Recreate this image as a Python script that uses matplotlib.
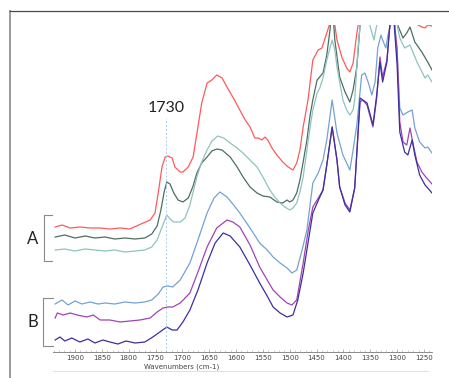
import numpy as np
import matplotlib
matplotlib.use("Agg")
import matplotlib.pyplot as plt
from matplotlib.lines import Line2D

# spectra (wavenumber, absorbance in arbitrary units)
red_wn = [1937, 1924, 1909, 1891, 1872, 1853, 1835, 1816, 1798, 1773,
          1760, 1751, 1745, 1738, 1732, 1727, 1719, 1714, 1704, 1699,
          1689, 1680, 1671, 1664, 1654, 1645, 1636, 1626, 1617, 1606,
          1593, 1583, 1574, 1565, 1559, 1552, 1546, 1541, 1533, 1524,
          1513, 1503, 1494, 1487, 1481, 1475, 1466, 1457, 1447, 1440,
          1431, 1425, 1421, 1416, 1412, 1403, 1394, 1388, 1382, 1375,
          1371, 1360, 1332, 1304, 1276, 1261, 1254, 1248, 1243, 1235]
red_abs = [1.25, 1.27, 1.24, 1.25, 1.24, 1.24, 1.23, 1.24, 1.23, 1.29,
           1.32, 1.39, 1.59, 1.85, 1.95, 1.96, 1.94, 1.85, 1.80, 1.80,
           1.85, 1.95, 2.25, 2.49, 2.69, 2.72, 2.77, 2.74, 2.65, 2.55,
           2.42, 2.32, 2.25, 2.14, 2.14, 2.12, 2.15, 2.12, 2.04, 1.97,
           1.90, 1.85, 1.82, 1.89, 2.02, 2.25, 2.52, 2.92, 3.02, 3.04,
           3.19, 3.29, 3.50, 3.27, 3.12, 2.95, 2.84, 2.80, 2.89, 3.19,
           3.32, 3.70, 4.30, 5.00, 4.10, 3.27, 3.25, 3.24, 3.27, 3.26]

green_wn = [1937, 1919, 1900, 1881, 1863, 1844, 1826, 1807, 1788, 1770,
            1757, 1747, 1740, 1734, 1729, 1723, 1716, 1708, 1699, 1689,
            1680, 1673, 1664, 1654, 1645, 1636, 1626, 1611, 1598, 1587,
            1574, 1561, 1550, 1537, 1524, 1513, 1505, 1500, 1494, 1487,
            1481, 1475, 1468, 1462, 1457, 1449, 1438, 1431, 1425, 1421,
            1416, 1407, 1397, 1388, 1382, 1375, 1369, 1351, 1323, 1299,
            1289, 1282, 1276, 1267, 1254, 1243, 1235]
green_abs = [1.15, 1.17, 1.14, 1.16, 1.14, 1.15, 1.13, 1.14, 1.13, 1.14,
             1.18, 1.26, 1.42, 1.60, 1.70, 1.68, 1.59, 1.52, 1.50, 1.54,
             1.66, 1.79, 1.89, 1.95, 2.01, 2.03, 2.02, 1.95, 1.85, 1.75,
             1.65, 1.59, 1.56, 1.55, 1.50, 1.49, 1.52, 1.50, 1.52, 1.59,
             1.72, 1.90, 2.12, 2.37, 2.52, 2.72, 2.79, 2.97, 3.22, 3.50,
             3.12, 2.75, 2.60, 2.50, 2.62, 2.85, 3.27, 3.80, 4.20, 3.27,
             3.14, 3.19, 3.25, 3.10, 3.00, 2.90, 2.82]

teal_wn = [1937, 1919, 1900, 1881, 1863, 1844, 1826, 1807, 1788, 1770,
           1757, 1747, 1740, 1732, 1729, 1723, 1716, 1704, 1695, 1686,
           1673, 1664, 1654, 1645, 1634, 1623, 1611, 1598, 1587, 1574,
           1561, 1550, 1537, 1528, 1518, 1509, 1500, 1494, 1487, 1481,
           1475, 1468, 1462, 1457, 1449, 1444, 1438, 1431, 1421, 1416,
           1412, 1401, 1394, 1388, 1382, 1379, 1373, 1369, 1360, 1351,
           1343, 1338, 1323, 1300, 1295, 1286, 1276, 1263, 1248, 1243,
           1235]
teal_abs = [1.02, 1.03, 1.01, 1.03, 1.02, 1.01, 1.02, 1.00, 1.01, 1.02,
            1.05, 1.12, 1.22, 1.33, 1.37, 1.33, 1.30, 1.30, 1.34, 1.47,
            1.75, 1.90, 2.02, 2.11, 2.16, 2.14, 2.09, 2.04, 1.99, 1.92,
            1.85, 1.75, 1.62, 1.55, 1.49, 1.45, 1.42, 1.44, 1.49, 1.60,
            1.75, 2.02, 2.25, 2.42, 2.59, 2.64, 2.74, 2.92, 3.12, 3.02,
            2.85, 2.52, 2.42, 2.37, 2.42, 2.52, 3.02, 3.27, 3.60, 3.27,
            3.12, 3.27, 3.60, 3.27, 3.14, 3.04, 3.07, 2.90, 2.74, 2.77,
            2.70]

blue_wn = [1937, 1924, 1913, 1900, 1887, 1872, 1857, 1844, 1826, 1807,
           1788, 1770, 1757, 1745, 1736, 1727, 1718, 1704, 1686, 1671,
           1654, 1641, 1630, 1617, 1606, 1593, 1574, 1556, 1542, 1531,
           1518, 1505, 1496, 1487, 1477, 1468, 1457, 1447, 1438, 1431,
           1421, 1412, 1401, 1394, 1388, 1382, 1375, 1366, 1360, 1354,
           1347, 1341, 1336, 1330, 1327, 1321, 1317, 1312, 1308, 1304,
           1299, 1295, 1289, 1280, 1272, 1267, 1258, 1248, 1243, 1235]
blue_abs = [0.48, 0.52, 0.47, 0.51, 0.48, 0.50, 0.48, 0.49, 0.48, 0.50,
            0.49, 0.50, 0.52, 0.58, 0.65, 0.66, 0.65, 0.72, 0.89, 1.12,
            1.39, 1.54, 1.60, 1.55, 1.48, 1.39, 1.24, 1.09, 1.02, 0.95,
            0.89, 0.84, 0.79, 0.82, 1.02, 1.22, 1.69, 1.79, 1.92, 2.12,
            2.52, 2.19, 1.97, 1.89, 1.82, 2.02, 2.27, 2.77, 2.79, 2.70,
            2.57, 2.70, 3.04, 3.17, 3.12, 3.04, 3.17, 3.27, 3.60, 3.27,
            2.87, 2.44, 2.37, 2.40, 2.42, 2.24, 2.10, 2.04, 2.05, 1.99]

purple_wn = [1937, 1933, 1922, 1909, 1896, 1878, 1866, 1853, 1835, 1816,
             1798, 1779, 1760, 1747, 1736, 1727, 1718, 1704, 1686, 1671,
             1654, 1636, 1617, 1606, 1593, 1574, 1556, 1542, 1531, 1518,
             1505, 1496, 1487, 1475, 1466, 1457, 1449, 1438, 1431, 1421,
             1412, 1407, 1397, 1388, 1379, 1369, 1364, 1356, 1351, 1345,
             1338, 1332, 1327, 1319, 1314, 1310, 1304, 1300, 1295, 1289,
             1282, 1276, 1271, 1263, 1254, 1245, 1235]
purple_abs = [0.34, 0.39, 0.37, 0.39, 0.37, 0.35, 0.37, 0.32, 0.32, 0.30,
              0.31, 0.32, 0.34, 0.40, 0.44, 0.45, 0.45, 0.49, 0.59, 0.80,
              1.05, 1.24, 1.32, 1.30, 1.25, 1.07, 0.85, 0.72, 0.62, 0.55,
              0.49, 0.47, 0.52, 0.89, 1.20, 1.45, 1.52, 1.62, 1.87, 2.25,
              1.92, 1.65, 1.49, 1.42, 1.64, 2.50, 2.52, 2.47, 2.37, 2.25,
              2.54, 2.95, 2.75, 2.92, 3.24, 3.60, 3.22, 3.04, 2.30, 2.10,
              2.07, 2.24, 2.10, 1.90, 1.80, 1.74, 1.68]

indigo_wn = [1937, 1928, 1919, 1906, 1891, 1876, 1863, 1848, 1835, 1820,
             1805, 1788, 1770, 1755, 1742, 1729, 1719, 1710, 1699, 1686,
             1671, 1654, 1639, 1624, 1611, 1593, 1574, 1556, 1542, 1531,
             1518, 1505, 1494, 1485, 1475, 1466, 1457, 1449, 1438, 1431,
             1421, 1412, 1407, 1397, 1388, 1379, 1369, 1364, 1356, 1351,
             1345, 1338, 1332, 1327, 1319, 1314, 1310, 1304, 1300, 1295,
             1286, 1280, 1272, 1267, 1258, 1248, 1243, 1235]
indigo_abs = [0.12, 0.15, 0.11, 0.14, 0.10, 0.13, 0.09, 0.12, 0.10, 0.08,
              0.11, 0.09, 0.10, 0.15, 0.20, 0.25, 0.22, 0.22, 0.30, 0.42,
              0.62, 0.89, 1.09, 1.19, 1.16, 1.05, 0.87, 0.69, 0.56, 0.45,
              0.39, 0.35, 0.37, 0.52, 0.79, 1.09, 1.39, 1.49, 1.62, 1.87,
              2.25, 1.92, 1.65, 1.47, 1.40, 1.64, 2.54, 2.52, 2.49, 2.39,
              2.27, 2.57, 2.90, 2.70, 2.90, 3.24, 3.60, 3.17, 2.87, 2.20,
              2.00, 1.97, 2.12, 1.97, 1.77, 1.67, 1.64, 1.59]

tick_values = [1900, 1850, 1800, 1750, 1700, 1650, 1600, 1550,
               1500, 1450, 1400, 1350, 1300, 1250]
marker_wn = 1730


def px(x, y):
    # figure pixel (from top-left) -> figure fraction
    return x / 449, 1 - y / 378


def fig_line(fig, xs, ys, color, lw):
    fx = [x / 449 for x in xs]
    fy = [1 - y / 378 for y in ys]
    fig.add_artist(Line2D(fx, fy, color=color, lw=lw, transform=fig.transFigure))


def main():
    fig = plt.figure(figsize=(4.49, 3.78), dpi=100)
    l, b = px(53, 352)
    r, t = px(432, 25)
    ax = fig.add_axes([l, b, r - l, t - b])

    ax.plot(red_wn, red_abs, color='#ff5a5a', lw=0.9)
    ax.plot(green_wn, green_abs, color='#4e6e62', lw=0.9)
    ax.plot(teal_wn, teal_abs, color='#8fc3bf', lw=0.9)
    ax.plot(blue_wn, blue_abs, color='#74a2d4', lw=0.9)
    ax.plot(purple_wn, purple_abs, color='#a044b4', lw=0.9)
    ax.plot(indigo_wn, indigo_abs, color='#3b309e', lw=0.9)

    ax.plot([marker_wn, marker_wn], [0, 2.34], color='#a8cdee', lw=0.7,
            ls=(0, (2, 2)))
    ax.text(marker_wn, 2.44, str(marker_wn), ha='center', va='center',
            fontsize=11.5, family='Lato', color='#222222')

    ax.set_xlim(1941, 1235)
    ax.set_ylim(0, 3.27)
    for side in ['left', 'right', 'top']:
        ax.spines[side].set_visible(False)
    ax.spines['bottom'].set_color('#8a8a8a')
    ax.spines['bottom'].set_linewidth(0.7)
    ax.set_yticks([])
    ax.set_xticks(tick_values)
    ax.set_xticks(np.arange(1240, 1941, 10), minor=True)
    ax.tick_params(axis='x', which='major', direction='in', length=2.5,
                   width=0.5, color='#999999', labelsize=5, pad=2,
                   labelcolor='#444444')
    ax.tick_params(axis='x', which='minor', direction='in', length=1.3,
                   width=0.4, color='#aaaaaa')

    fx, fy = px(182, 367)
    fig.text(fx, fy, 'Wavenumbers (cm-1)', ha='center', va='center',
             fontsize=5, color='#444444')

    # frame of the screenshot
    fig_line(fig, [10, 10], [11, 378], '#9a9a9a', 1.4)
    fig_line(fig, [10, 449], [11, 11], '#4a4a4a', 0.9)
    fig_line(fig, [53, 428], [371, 371], '#e0e0e0', 0.7)

    # group brackets
    fig_line(fig, [52, 44, 44, 52], [215, 215, 261, 261], '#8a8a8a', 0.8)
    fig_line(fig, [53, 43, 43, 53], [298, 298, 346, 346], '#8a8a8a', 0.8)
    fx, fy = px(33, 239)
    fig.text(fx, fy, 'A', ha='center', va='center', fontsize=12,
             family='Lato', color='#222222')
    fx, fy = px(33, 322)
    fig.text(fx, fy, 'B', ha='center', va='center', fontsize=12,
             family='Lato', color='#222222')

    fig.savefig('out.png', dpi=100)


if __name__ == "__main__":
    main()
